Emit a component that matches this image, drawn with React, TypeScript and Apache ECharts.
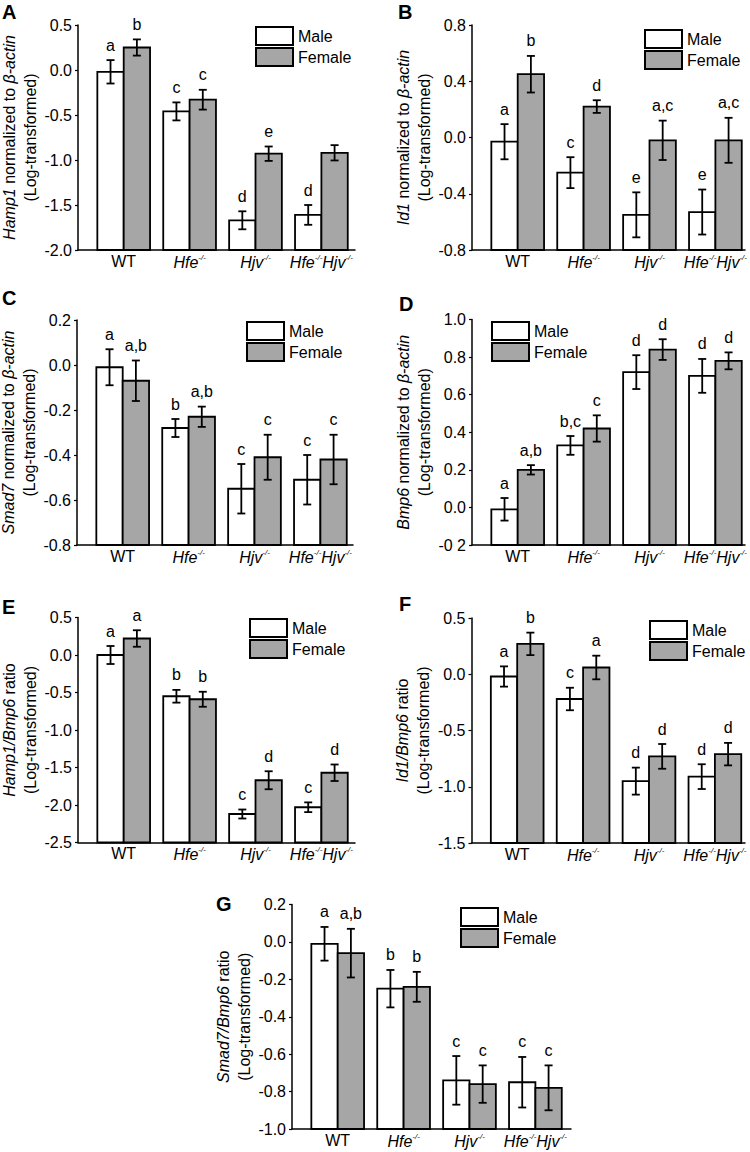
import React, { useEffect, useRef } from 'react';
import * as echarts from 'echarts';

const FONT = "'Liberation Sans', Arial, Helvetica, sans-serif";
const FEMALE_FILL = '#a6a6a6';

const categoryLabels = ['WT', '{i|Hfe}{s|-/-}', '{i|Hjv}{s|-/-}', '{i|Hfe}{s|-/-}{i|Hjv}{s|-/-}'];
const legendNames = ['Male', 'Female'];

// Panel A: Hamp1 / beta-actin
const hamp1Axis = [-2.0, 0.5, 0.5];
const hamp1Male = [-0.02, -0.46, -1.67, -1.61];
const hamp1MaleSem = [0.13, 0.1, 0.1, 0.11];
const hamp1Female = [0.25, -0.33, -0.93, -0.92];
const hamp1FemaleSem = [0.09, 0.11, 0.08, 0.085];
const hamp1MaleLetters = ['a', 'c', 'd', 'd'];
const hamp1FemaleLetters = ['b', 'c', 'e', ''];

// Panel B: Id1 / beta-actin
const id1Axis = [-0.8, 0.8, 0.4];
const id1Male = [-0.03, -0.25, -0.55, -0.53];
const id1MaleSem = [0.125, 0.11, 0.16, 0.16];
const id1Female = [0.45, 0.22, -0.02, -0.02];
const id1FemaleSem = [0.13, 0.045, 0.14, 0.16];
const id1MaleLetters = ['a', 'c', 'e', 'e'];
const id1FemaleLetters = ['b', 'd', 'a,c', 'a,c'];

// Panel C: Smad7 / beta-actin
const smad7Axis = [-0.8, 0.2, 0.2];
const smad7Male = [-0.01, -0.28, -0.55, -0.51];
const smad7MaleSem = [0.08, 0.04, 0.11, 0.11];
const smad7Female = [-0.07, -0.23, -0.41, -0.42];
const smad7FemaleSem = [0.09, 0.045, 0.1, 0.11];
const smad7MaleLetters = ['a', 'b', 'c', 'c'];
const smad7FemaleLetters = ['a,b', 'a,b', 'c', 'c'];

// Panel D: Bmp6 / beta-actin
const bmp6Axis = [-0.2, 1.0, 0.2];
const bmp6Male = [-0.01, 0.33, 0.72, 0.7];
const bmp6MaleSem = [0.06, 0.05, 0.09, 0.09];
const bmp6Female = [0.2, 0.42, 0.84, 0.78];
const bmp6FemaleSem = [0.025, 0.07, 0.055, 0.045];
const bmp6MaleLetters = ['a', 'b,c', 'd', 'd'];
const bmp6FemaleLetters = ['a,b', 'c', 'd', 'd'];

// Panel E: Hamp1/Bmp6 ratio
const hampRatioAxis = [-2.5, 0.5, 0.5];
const hampRatioMale = [0.0, -0.55, -2.12, -2.03];
const hampRatioMaleSem = [0.12, 0.085, 0.06, 0.065];
const hampRatioFemale = [0.22, -0.59, -1.67, -1.57];
const hampRatioFemaleSem = [0.11, 0.1, 0.12, 0.11];
const hampRatioMaleLetters = ['a', 'b', 'c', 'c'];
const hampRatioFemaleLetters = ['a', 'b', 'd', 'd'];

// Panel F: Id1/Bmp6 ratio
const id1RatioAxis = [-1.5, 0.5, 0.5];
const id1RatioMale = [-0.02, -0.22, -0.95, -0.91];
const id1RatioMaleSem = [0.09, 0.1, 0.12, 0.11];
const id1RatioFemale = [0.27, 0.06, -0.73, -0.71];
const id1RatioFemaleSem = [0.1, 0.105, 0.11, 0.1];
const id1RatioMaleLetters = ['a', 'c', 'd', 'd'];
const id1RatioFemaleLetters = ['b', 'a', 'd', 'd'];

// Panel G: Smad7/Bmp6 ratio
const smadRatioAxis = [-1.0, 0.2, 0.2];
const smadRatioMale = [-0.01, -0.25, -0.74, -0.75];
const smadRatioMaleSem = [0.09, 0.1, 0.13, 0.135];
const smadRatioFemale = [-0.06, -0.24, -0.76, -0.78];
const smadRatioFemaleSem = [0.13, 0.08, 0.1, 0.12];
const smadRatioMaleLetters = ['a', 'b', 'c', 'c'];
const smadRatioFemaleLetters = ['a,b', 'b', 'c', 'c'];

const panels = [
  { tag: 'A', title: '{i|Hamp1} normalized to {i|β-actin}\n(Log-transformed)', axis: hamp1Axis, male: hamp1Male, maleSem: hamp1MaleSem, female: hamp1Female, femaleSem: hamp1FemaleSem, maleLetters: hamp1MaleLetters, femaleLetters: hamp1FemaleLetters },
  { tag: 'B', title: '{i|Id1} normalized to {i|β-actin}\n(Log-transformed)', axis: id1Axis, male: id1Male, maleSem: id1MaleSem, female: id1Female, femaleSem: id1FemaleSem, maleLetters: id1MaleLetters, femaleLetters: id1FemaleLetters },
  { tag: 'C', title: '{i|Smad7} normalized to {i|β-actin}\n(Log-transformed)', axis: smad7Axis, male: smad7Male, maleSem: smad7MaleSem, female: smad7Female, femaleSem: smad7FemaleSem, maleLetters: smad7MaleLetters, femaleLetters: smad7FemaleLetters },
  { tag: 'D', title: '{i|Bmp6} normalized to {i|β-actin}\n(Log-transformed)', axis: bmp6Axis, male: bmp6Male, maleSem: bmp6MaleSem, female: bmp6Female, femaleSem: bmp6FemaleSem, maleLetters: bmp6MaleLetters, femaleLetters: bmp6FemaleLetters },
  { tag: 'E', title: '{i|Hamp1/Bmp6} ratio\n(Log-transformed)', axis: hampRatioAxis, male: hampRatioMale, maleSem: hampRatioMaleSem, female: hampRatioFemale, femaleSem: hampRatioFemaleSem, maleLetters: hampRatioMaleLetters, femaleLetters: hampRatioFemaleLetters },
  { tag: 'F', title: '{i|Id1/Bmp6} ratio\n(Log-transformed)', axis: id1RatioAxis, male: id1RatioMale, maleSem: id1RatioMaleSem, female: id1RatioFemale, femaleSem: id1RatioFemaleSem, maleLetters: id1RatioMaleLetters, femaleLetters: id1RatioFemaleLetters },
  { tag: 'G', title: '{i|Smad7/Bmp6} ratio\n(Log-transformed)', axis: smadRatioAxis, male: smadRatioMale, maleSem: smadRatioMaleSem, female: smadRatioFemale, femaleSem: smadRatioFemaleSem, maleLetters: smadRatioMaleLetters, femaleLetters: smadRatioFemaleLetters },
];

// layout (pixels)
const layouts = [
  { left: 78, top: 25, width: 277, height: 225, nameGap: 31, legendX: 256, legendY: 27, tagX: 2, tagY: 2 },
  { left: 472, top: 25, width: 273, height: 225, nameGap: 25, legendX: 645, legendY: 30, tagX: 398, tagY: 2 },
  { left: 77, top: 320, width: 276, height: 225, nameGap: 30, legendX: 247, legendY: 322, tagX: 2, tagY: 288 },
  { left: 472, top: 319.5, width: 273, height: 225.5, nameGap: 29, legendX: 492, legendY: 322, tagX: 399, tagY: 294 },
  { left: 78, top: 617.5, width: 277, height: 225, nameGap: 32, legendX: 250, legendY: 619, tagX: 2, tagY: 597 },
  { left: 471.5, top: 618, width: 273.5, height: 225, nameGap: 30, legendX: 650, legendY: 621, tagX: 399, tagY: 594 },
  { left: 292, top: 904.5, width: 279, height: 224.5, nameGap: 33, legendX: 461, legendY: 908, tagX: 216, tagY: 894 },
];

const UNIT = 65.9; // px per category
const FIRST = 45.7; // px from y-axis to first category centre
const BAR = 0.4; // bar width in category units
const CAP = 4;
const NAME_LINE = 21;

function fmt(v: number, tag: string) {
  const s = Math.abs(v) < 1e-9 ? '0.0' : v.toFixed(1);
  if (tag === 'D' && s === '-0.2') return '-0 2';
  return s;
}

function barSeries(p: any, gi: number, sex: number) {
  const vals = sex === 0 ? p.male : p.female;
  const sems = sex === 0 ? p.maleSem : p.femaleSem;
  const letters = sex === 0 ? p.maleLetters : p.femaleLetters;
  const yMin = p.axis[0];
  return {
    type: 'custom',
    name: legendNames[sex],
    xAxisIndex: gi,
    yAxisIndex: gi,
    data: vals.map((v: number, i: number) => [i, v, sems[i]]),
    renderItem: (params: any, api: any) => {
      const i = api.value(0);
      const v = api.value(1);
      const e = api.value(2);
      const x0 = sex === 0 ? i - BAR : i;
      const x1 = x0 + BAR;
      const xc = x0 + BAR / 2;
      const tl = api.coord([x0, v]);
      const br = api.coord([x1, yMin]);
      const top = api.coord([xc, v + e]);
      const bot = api.coord([xc, v - e]);
      const line = { stroke: '#000', lineWidth: 1.8 };
      return {
        type: 'group',
        children: [
          {
            type: 'rect',
            shape: { x: tl[0], y: Math.min(tl[1], br[1]), width: br[0] - tl[0], height: Math.abs(br[1] - tl[1]) },
            style: { fill: sex === 0 ? '#ffffff' : FEMALE_FILL, stroke: '#000', lineWidth: 1.8 },
          },
          { type: 'line', shape: { x1: top[0], y1: top[1], x2: bot[0], y2: bot[1] }, style: line },
          { type: 'line', shape: { x1: top[0] - CAP, y1: top[1], x2: top[0] + CAP, y2: top[1] }, style: line },
          { type: 'line', shape: { x1: bot[0] - CAP, y1: bot[1], x2: bot[0] + CAP, y2: bot[1] }, style: line },
          {
            type: 'text',
            x: top[0],
            y: top[1] - 15,
            style: {
              text: letters[params.dataIndex],
              align: 'center',
              verticalAlign: 'middle',
              fontSize: 16,
              fontFamily: FONT,
              fill: '#000',
            },
          },
        ],
      };
    },
  };
}

function buildOption() {
  const grid: any[] = [];
  const xAxis: any[] = [];
  const yAxis: any[] = [];
  const series: any[] = [];
  const graphic: any[] = [];
  panels.forEach((p, gi) => {
    const L = layouts[gi];
    grid.push({ left: L.left, top: L.top, width: L.width, height: L.height, outerBoundsMode: 'none', containLabel: false });
    const xMin = -FIRST / UNIT;
    xAxis.push({
      type: 'value',
      gridIndex: gi,
      min: xMin,
      max: xMin + L.width / UNIT,
      axisLine: { show: true, onZero: false, lineStyle: { color: '#000', width: 1.5 } },
      axisTick: { show: false },
      splitLine: { show: false },
      axisLabel: {
        customValues: [0, 1, 2, 3],
        formatter: (v: number) => categoryLabels[Math.round(v)],
        color: '#000',
        fontSize: 16,
        fontFamily: FONT,
        margin: 3,
        rich: {
          i: { fontStyle: 'italic', fontSize: 16, fontFamily: FONT, color: '#000', lineHeight: 18 },
          s: { fontStyle: 'italic', fontSize: 8, fontFamily: FONT, color: '#000', verticalAlign: 'top', lineHeight: 18 },
        },
      },
    });
    yAxis.push({
      type: 'value',
      gridIndex: gi,
      min: p.axis[0],
      max: p.axis[1],
      interval: p.axis[2],
      axisLine: { show: true, onZero: false, lineStyle: { color: '#000', width: 1.5 } },
      axisTick: { show: true, length: 3, lineStyle: { color: '#000', width: 1.2 } },
      splitLine: { show: false },
      axisLabel: { color: '#000', fontSize: 16, fontFamily: FONT, margin: 6, formatter: (v: number) => fmt(v, p.tag) },
      name: p.title,
      nameLocation: 'middle',
      nameGap: L.nameGap,
      nameTextStyle: {
        color: '#000',
        fontSize: 16,
        fontFamily: FONT,
        lineHeight: NAME_LINE,
        rich: { i: { fontStyle: 'italic', fontSize: 16, fontFamily: FONT, color: '#000', lineHeight: NAME_LINE } },
      },
    });
    series.push(barSeries(p, gi, 0));
    series.push(barSeries(p, gi, 1));

    // panel tag
    graphic.push({
      type: 'text',
      x: L.tagX,
      y: L.tagY,
      style: { text: p.tag, fontSize: 20, fontWeight: 'bold', fontFamily: FONT, fill: '#000', align: 'left', verticalAlign: 'top' },
    });
    // legend
    legendNames.forEach((nm, k) => {
      const y = L.legendY + k * 21;
      graphic.push({
        type: 'rect',
        shape: { x: L.legendX, y, width: 37, height: 18 },
        style: { fill: k === 0 ? '#ffffff' : FEMALE_FILL, stroke: '#000', lineWidth: 2 },
      });
      graphic.push({
        type: 'text',
        x: L.legendX + 42,
        y: y + 9,
        style: { text: nm, fontSize: 16, fontFamily: FONT, fill: '#000', align: 'left', verticalAlign: 'middle' },
      });
    });
  });
  return {
    animation: false,
    backgroundColor: '#ffffff',
    grid,
    xAxis,
    yAxis,
    series,
    graphic,
  };
}

export default function App() {
  const ref = useRef<HTMLDivElement>(null);
  useEffect(() => {
    if (!ref.current) return;
    const chart = echarts.init(ref.current, undefined, { renderer: 'svg' });
    chart.setOption(buildOption() as any);
    return () => chart.dispose();
  }, []);
  return <div ref={ref} style={{ position: 'absolute', left: 0, top: 0, width: 750, height: 1152 }} />;
}
